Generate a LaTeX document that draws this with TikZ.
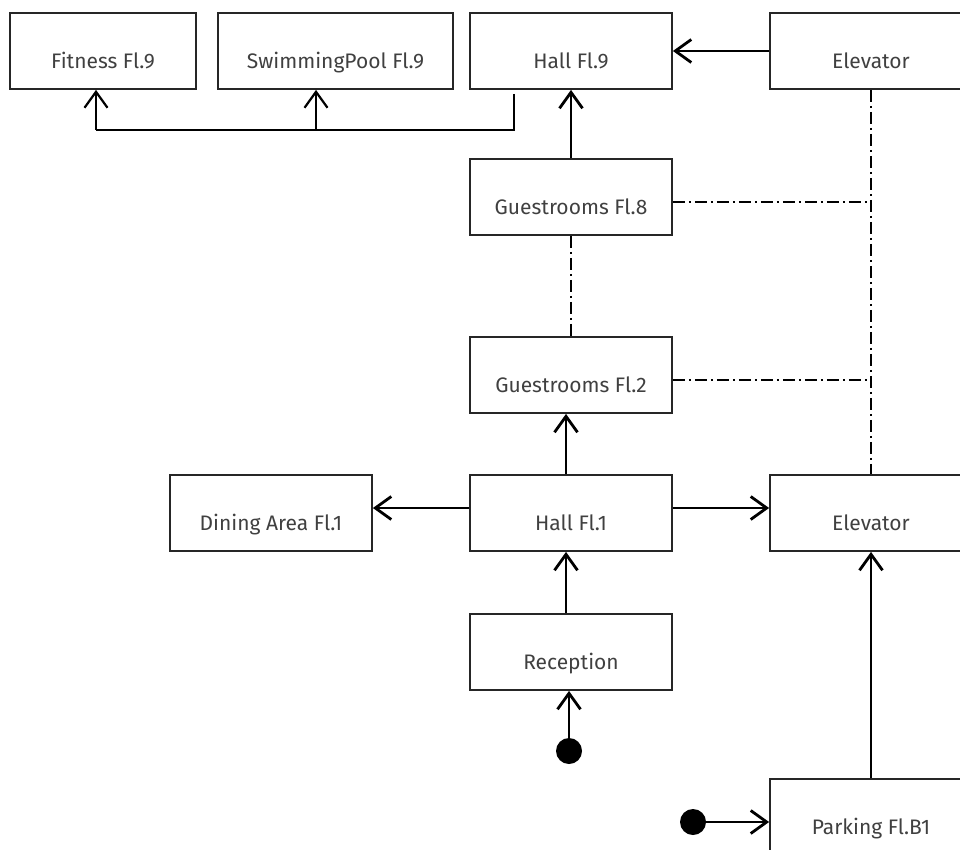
\documentclass[tikz,border=0pt]{standalone}
\usepackage{fontspec}
\setmainfont{Fira Sans}
\usetikzlibrary{arrows.meta}
\begin{document}
\begin{tikzpicture}[x=1pt,y=-1pt,
  box/.style={draw=black!85, line width=1.8pt, rectangle, minimum width=202pt,
    minimum height=76pt, inner sep=0pt, text height=35pt, text depth=0pt,
    font=\fontsize{21}{24}\selectfont, text=black!75},
  flow/.style={line width=2.8pt, -{Straight Barb[length=16pt,width=23pt]}},
  link/.style={line width=1.1pt, dash pattern=on 12pt off 4pt on 2pt off 4pt},
  startdot/.style={circle, fill=black, minimum size=26pt, inner sep=0pt}
]
\useasboundingbox (0,0) rectangle (960,850);
\clip (0,0) rectangle (960,850);

% floor 9
\node[box, minimum width=186pt] (fit) at (103,51) {Fitness Fl.9};
\node[box, minimum width=235pt] (pool) at (335.5,51) {SwimmingPool Fl.9};
\node[box] (hall9) at (571,51) {Hall Fl.9};
\node[box] (elev9) at (871,51) {Elevator};

% guest floors
\node[box] (g8) at (571,197) {Guestrooms Fl.8};
\node[box] (g2) at (571,375) {Guestrooms Fl.2};

% floor 1
\node[box] (dine) at (271,513) {Dining Area Fl.1};
\node[box] (hall1) at (571,513) {Hall Fl.1};
\node[box] (elev1) at (871,513) {Elevator};
\node[box] (rec) at (571,652) {Reception};

% basement
\node[box] (park) at (871,817) {Parking Fl.B1};

% entry points
\node[startdot] (s1) at (569,751) {};
\node[startdot] (s2) at (693,822) {};

% movement on floor 9
\draw[flow] (elev9.west) -- (hall9.east);
\coordinate (bus) at (96,130);
\coordinate (poolTap) at (316,130);
\draw[line width=2.2pt] ([xshift=-57pt,yshift=-4pt]hall9.south) |- (bus);
\draw[flow, line width=2.2pt] (bus) -- (bus |- fit.south);
\draw[flow, line width=2.2pt] (poolTap) -- (poolTap |- pool.south);
\draw[flow] (g8.north) -- (hall9.south);

% movement on floor 1
\draw[flow] ([yshift=5pt]hall1.west) -- ([yshift=5pt]dine.east);
\draw[flow] ([yshift=5pt]hall1.east) -- ([yshift=5pt]elev1.west);
\draw[flow] ([xshift=-5pt]hall1.north) -- ([xshift=-5pt]g2.south);
\draw[flow] ([xshift=-5pt]rec.north) -- ([xshift=-5pt]hall1.south);
\draw[flow] (s1) -- (s1 |- rec.south);

% from parking
\draw[flow] (park.north) -- (elev1.south);
\draw[flow] (s2) -- (s2 -| park.west);

% elevator shaft and stair links
\draw[link] (elev9.south) -- (elev1.north);
\draw[link] (g8.south) -- (g2.north);
\coordinate (r8) at ([yshift=-5pt]g8.east);
\coordinate (r2) at ([yshift=-5pt]g2.east);
\draw[link] (r8) -- (r8 -| elev9.south);
\draw[link] (r2) -- (r2 -| elev9.south);
\end{tikzpicture}
\end{document}
